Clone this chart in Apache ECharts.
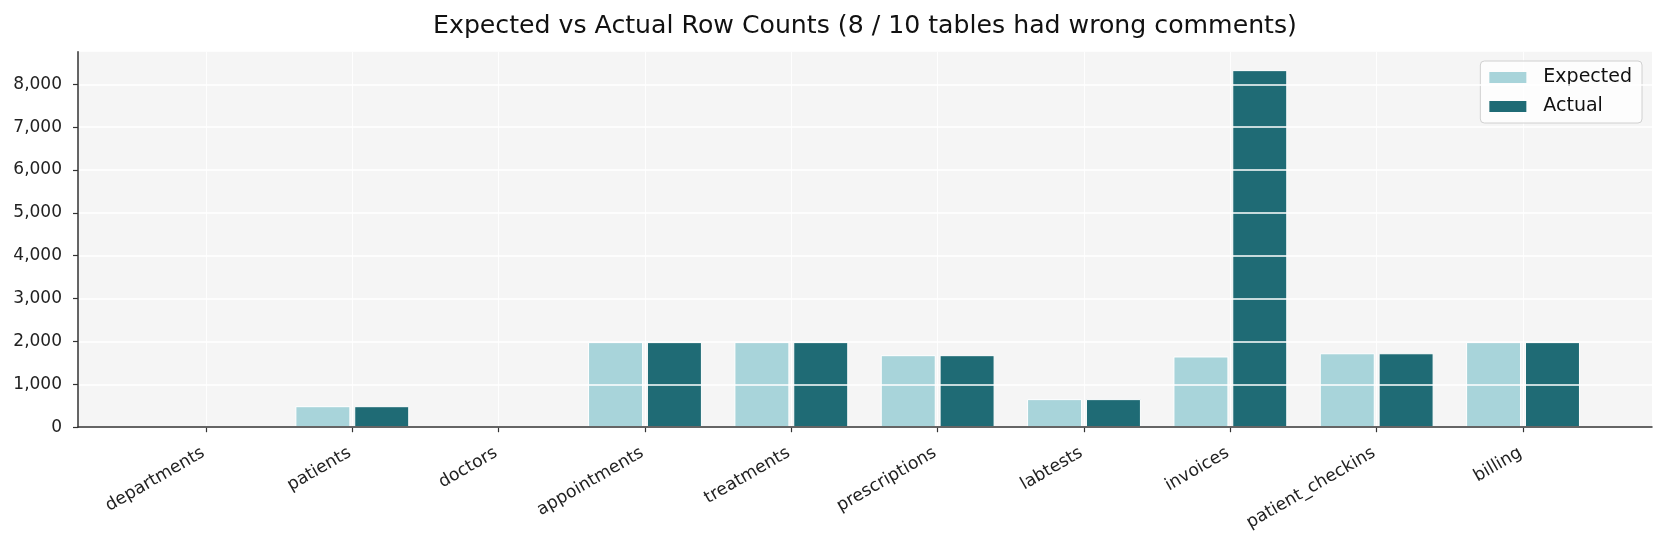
<!DOCTYPE html>
<html>
<head>
<meta charset="utf-8">
<script src="https://cdn.jsdelivr.net/npm/echarts@6/dist/echarts.min.js"></script>
<style>
html,body{margin:0;padding:0;background:#fff;}
#chart{width:1665px;height:545px;}
</style>
</head>
<body>
<div id="chart"></div>
<script>
const categories = ['departments','patients','doctors','appointments','treatments','prescriptions','labtests','invoices','patient_checkins','billing'];
const expected = [10, 490, 15, 1985, 1985, 1680, 655, 1650, 1725, 1985];
const actual   = [10, 490, 15, 1985, 1985, 1680, 655, 8330, 1725, 1985];
const yTicks = [0,1000,2000,3000,4000,5000,6000,7000,8000];

const FONT = 'DejaVu Sans';
const YMAX = 8760;
const chart = echarts.init(document.getElementById('chart'));
const fmt = v => v.toLocaleString('en-US');

chart.setOption({
  animation: false,
  backgroundColor: '#ffffff',
  textStyle: { fontFamily: FONT },
  title: {
    text: 'Expected vs Actual Row Counts (8 / 10 tables had wrong comments)',
    left: 860, textAlign: 'center', top: 9,
    textStyle: { fontFamily: FONT, fontSize: 25.2, fontWeight: 'normal', color: '#111' }
  },
  legend: {
    data: ['Expected','Actual'],
    orient: 'vertical',
    right: 23, top: 61,
    itemWidth: 37, itemHeight: 11, itemGap: 10,
    icon: 'rect',
    itemStyle: { borderWidth: 0 },
    padding: [7, 10, 7, 9],
    backgroundColor: 'rgba(255,255,255,0.8)',
    borderColor: '#d0d0d0', borderWidth: 1, borderRadius: 4,
    textStyle: { fontFamily: FONT, fontSize: 19, color: '#111', padding: [0,0,0,12] }
  },
  grid: [
    { left: 78, right: 13, top: 51.7, bottom: 117.8, show: true, backgroundColor: '#f5f5f5', borderWidth: 0, containLabel: false },
    { left: 132.8, right: 68.8, top: 51.7, bottom: 117.8, containLabel: false }
  ],
  xAxis: [
    { gridIndex: 0, type: 'value', min: 0, max: 1, z: 6,
      axisLine: { show: true, lineStyle: { color: '#333', width: 1.5 } },
      axisTick: { show: false }, axisLabel: { show: false }, splitLine: { show: false } },
    { gridIndex: 1, type: 'category', data: categories, boundaryGap: true,
      axisLine: { show: false },
      axisTick: { show: true, alignWithLabel: true, length: 5, lineStyle: { color: '#333', width: 1.2 } },
      axisLabel: { rotate: 30, margin: 23, fontFamily: FONT, fontSize: 17.3, color: '#222', padding: [0, 3, 0, 0] },
      splitLine: { show: false } }
  ],
  yAxis: [
    { gridIndex: 0, type: 'value', min: 0, max: YMAX, interval: 1000, z: 5,
      axisLine: { show: true, lineStyle: { color: '#333', width: 1.5 } },
      axisTick: { show: true, length: 5, customValues: yTicks, lineStyle: { color: '#333', width: 1.2 } },
      axisLabel: { customValues: yTicks, formatter: v => fmt(v), margin: 16, fontFamily: FONT, fontSize: 17, color: '#222' },
      splitLine: { show: true, lineStyle: { color: '#ffffff', width: 1.5 } } },
    { gridIndex: 1, type: 'value', min: 0, max: YMAX, show: false, splitLine: { show: false } }
  ],
  series: [
    { name: 'vgrid', type: 'line', xAxisIndex: 1, yAxisIndex: 1, data: categories.map(() => null),
      silent: true, symbol: 'none', z: 1, legendHoverLink: false,
      markLine: { silent: true, symbol: 'none', label: { show: false }, z: 1,
        lineStyle: { color: 'rgba(255,255,255,0.9)', width: 1, type: 'solid' },
        data: categories.map(c => ({ xAxis: c })) } },
    { name: 'Expected', type: 'bar', xAxisIndex: 1, yAxisIndex: 1, data: expected,
      barWidth: 55, barGap: '7%',
      itemStyle: { color: '#a8d4da', borderColor: '#ffffff', borderWidth: 1 } },
    { name: 'Actual', type: 'bar', xAxisIndex: 1, yAxisIndex: 1, data: actual,
      barWidth: 55, barGap: '7%',
      itemStyle: { color: '#1f6b75', borderColor: '#ffffff', borderWidth: 1 } }
  ]
});
</script>
</body>
</html>
